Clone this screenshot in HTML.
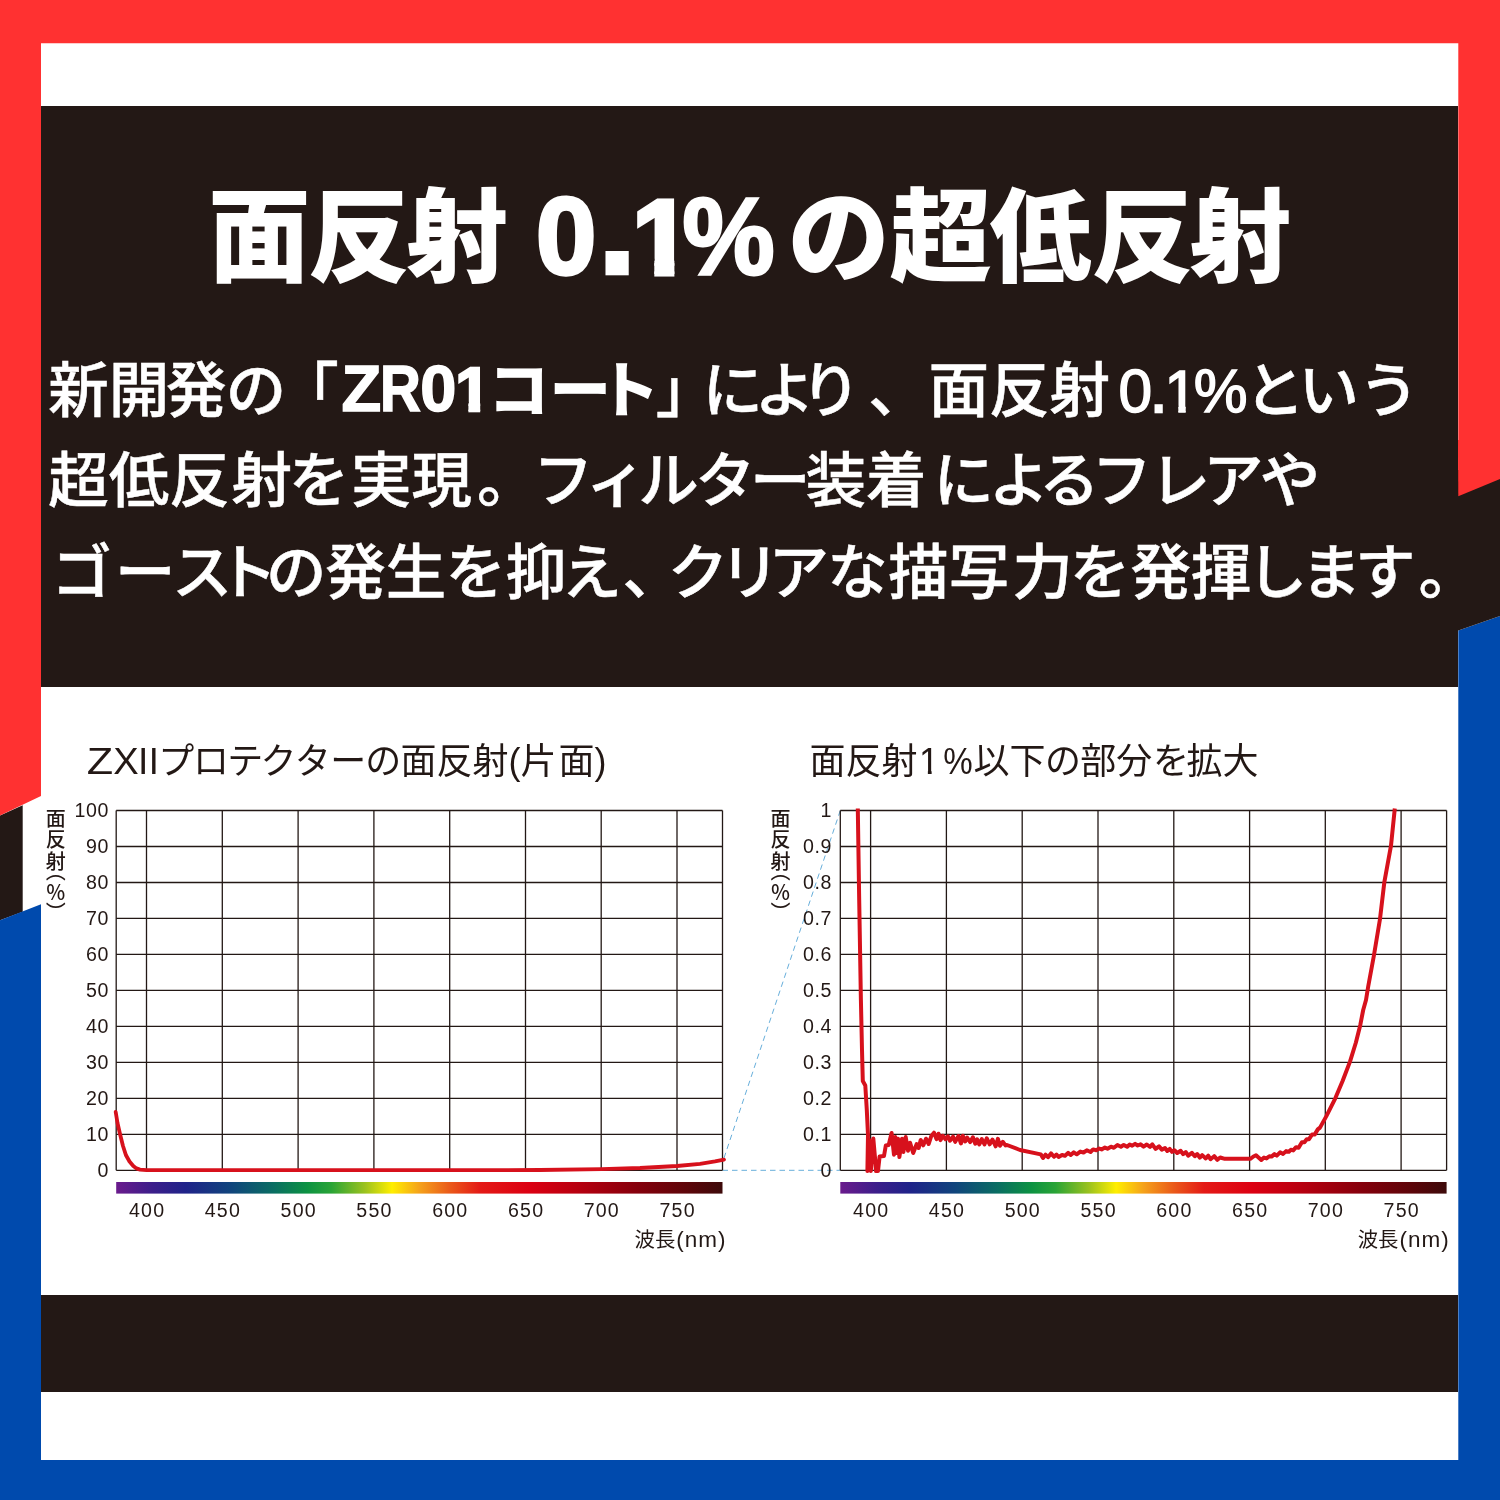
<!DOCTYPE html>
<html lang="ja">
<head>
<meta charset="utf-8">
<title>面反射 0.1% の超低反射</title>
<style>
html,body,h1,h2,p{margin:0;padding:0;}
body{width:1500px;height:1500px;position:relative;overflow:hidden;background:#fff;
font-family:"Liberation Sans","Noto Sans CJK JP",sans-serif;color:#231815;}

svg{position:absolute;left:0;top:0;display:block;}
.panel{position:absolute;background:#231815;}
.ln{font-kerning:none;position:absolute;left:0;width:1500px;height:92px;line-height:92px;font-size:60.5px;font-weight:500;color:#fff;white-space:nowrap;font-feature-settings:"palt" 1;-webkit-text-stroke:.5px #fff;}
.title{font-kerning:none;position:absolute;left:0;top:161px;width:1500px;height:150px;line-height:150px;color:#fff;font-weight:900;font-size:102px;white-space:nowrap;}
.ctitle{font-kerning:none;position:absolute;left:0;width:1500px;height:50px;font-size:36px;line-height:50px;white-space:nowrap;font-weight:400;font-feature-settings:"palt" 1;color:#231815;}

.ylab{position:absolute;writing-mode:vertical-rl;font-size:20px;line-height:22px;font-weight:500;letter-spacing:1.8px;white-space:nowrap;color:#231815;font-feature-settings:"vpal" 1;}
.xlab{position:absolute;font-size:20.4px;line-height:30px;white-space:nowrap;color:#231815;text-align:right;}
.xlab span{font-size:22.5px;letter-spacing:1px;margin-left:1px;}
.charts text{font-family:"Liberation Sans","Noto Sans CJK JP",sans-serif;}
</style>
</head>
<body>
<svg width="1500" height="1500" viewBox="0 0 1500 1500">
<polygon fill="#231815" points="0,815.5 22.7,805.3 22.7,911.7 0,920.2"/>
<polygon fill="#ff3131" points="0,0 1500,0 1500,479 1458.3,496.3 1458.3,43.2 41,43.2 41,796 0,815.5"/>
<polygon fill="#004aad" points="1500,616 1500,1500 0,1500 0,920.2 41,904.2 41,1460 1458.3,1460 1458.3,630.6"/>
</svg>
<div class="panel" style="left:41px;top:106px;width:1417.3px;height:580.6px;"></div>
<div class="panel" style="left:41px;top:1295.3px;width:1417.3px;height:97.2px;"></div>
<svg width="1500" height="1500" viewBox="0 0 1500 1500">
<polygon fill="#231815" points="1455,470 1500,470 1500,616 1458.3,630.6 1455,630.6"/>
<polygon fill="#ff3131" points="1458,440 1500,440 1500,479 1458.3,496.3"/>
</svg>

<h1 class="title" id="title" aria-label="面反射 0.1% の超低反射"><span style="margin-left:208.2px">面</span><span style="margin-left:-2.3px">反</span><span style="margin-left:-4.2px">射</span> <span style="margin-left:-0.1px;font-weight:700;font-size:108.5px;-webkit-text-stroke:3.5px #fff">0</span><span style="margin-left:5.5px;font-weight:700;font-size:110px;display:inline-block;-webkit-text-stroke:2px #fff;transform:scale(1.32);transform-origin:50% 112px">.</span><span style="margin-left:0.1px;font-weight:700;font-size:105.6px;display:inline-block;-webkit-text-stroke:5px #fff;clip-path:polygon(-9px 0,41.94px 0,41.94px 150px,21.85px 150px,21.85px 96.71px,-9px 96.71px)">1</span><span style="margin-left:-11.3px;font-weight:700;font-size:109px;display:inline-block;-webkit-text-stroke:3px #fff;transform:scaleX(.95)">%</span> <span style="margin-left:-17.3px">の超</span><span style="margin-left:-2.3px">低反</span><span style="margin-left:-4.5px">射</span></h1>

<p class="ln" id="l1" style="top:344px;" aria-label="新開発の「ZR01コート」により、面反射0.1%という"><span style="margin-left:48.3px">新開</span><span style="margin-left:-3.2px">発の</span><span style="margin-left:22.5px">「</span><span style="margin-left:3.9px;font-weight:700;font-size:65px;-webkit-text-stroke:1.5px #fff;position:relative;top:-.8px">Z</span><span style="margin-left:-4.3px;font-weight:700;font-size:65px;display:inline-block;-webkit-text-stroke:1.5px #fff;position:relative;top:-.8px;transform:scaleX(.87)">R</span><span style="margin-left:-3.8px;font-weight:700;font-size:65px;-webkit-text-stroke:1.5px #fff;position:relative;top:-.8px">0</span><span style="margin-left:-1.2px;font-weight:700;font-size:63.5px;display:inline-block;-webkit-text-stroke:2.5px #fff;clip-path:polygon(-9px 0,25.08px 0,25.08px 92px,13.27px 92px,13.27px 58.67px,-9px 58.67px);position:relative;top:-.8px">1</span><span style="margin-left:-0.4px;font-weight:700;-webkit-text-stroke:1.6px #fff">コ</span><span style="margin-left:1.6px;font-weight:700;-webkit-text-stroke:1.6px #fff">ー</span><span style="margin-left:-4.4px;font-weight:700;-webkit-text-stroke:1.6px #fff">ト</span><span style="margin-left:1.1px">」</span><span style="margin-left:16.1px">に</span><span style="margin-left:-3.5px">よ</span><span style="margin-left:-6.6px">り</span><span style="margin-left:14.2px">、</span><span style="margin-left:29.6px">面反射</span><span style="margin-left:8.3px;font-weight:400;-webkit-text-stroke:1.4px #fff">0</span><span style="margin-left:-1.8px;font-weight:400;-webkit-text-stroke:2.4px #fff">.</span><span style="margin-left:-2.5px;font-weight:400;font-size:59px;display:inline-block;-webkit-text-stroke:1.6px #fff;clip-path:polygon(-9px 0,21.15px 0,21.15px 92px,13.74px 92px,13.74px 59.64px,-9px 59.64px)">1</span><span style="margin-left:-3.6px;font-weight:400;-webkit-text-stroke:1.4px #fff">%</span><span style="margin-left:-1.3px">とい</span><span style="margin-left:6.6px">う</span></p>
<p class="ln" id="l2" style="top:435px;" aria-label="超低反射を実現。フィルター装着によるフレアや"><span style="margin-left:48.3px">超低反</span><span style="margin-left:1.7px">射</span><span style="margin-left:-2.6px">を</span><span style="margin-left:5.7px">実現</span><span style="margin-left:4.4px">。</span><span style="margin-left:30.9px">フ</span><span style="margin-left:2.0px">ィ</span><span style="margin-left:4.4px">ルター</span><span style="margin-left:-4.6px">装着</span><span style="margin-left:7.5px">によ</span><span style="margin-left:-3.2px">るフ</span><span style="margin-left:7.0px">レ</span><span style="margin-left:-1.8px">アや</span></p>
<p class="ln" id="l3" style="top:527px;" aria-label="ゴーストの発生を抑え、クリアな描写力を発揮します。"><span style="margin-left:53.7px">ゴ</span><span style="margin-left:5.2px">ース</span><span style="margin-left:-3.5px">ト</span><span style="margin-left:-5.7px">の発生を</span><span style="margin-left:4.0px">抑</span><span style="margin-left:-3.0px">え</span><span style="margin-left:4.7px">、</span><span style="margin-left:16.2px">クリ</span><span style="margin-left:-2.6px">アな</span><span style="margin-left:1.8px">描写</span><span style="margin-left:3.1px">力</span><span style="margin-left:-2.4px">を</span><span style="margin-left:4.2px">発揮します</span><span style="margin-left:4.8px">。</span></p>

<h2 class="ctitle" id="ct1" style="top:736.5px;" aria-label="ZXⅡプロテクターの面反射(片面)"><span style="margin-left:89.0px;display:inline-block;transform:scaleX(1.2)">Z</span><span style="margin-left:3.0px;display:inline-block;transform:scaleX(1.06)">X</span><span style="margin-left:-7.5px">Ⅱ</span><span style="margin-left:-6.0px">プロテク</span><span style="margin-left:2.7px">タ</span><span style="margin-left:2.5px">ーの面反射(片</span><span style="margin-left:1.8px">面)</span></h2>
<h2 class="ctitle" id="ct2" style="top:736.5px;" aria-label="面反射1%以下の部分を拡大"><span style="margin-left:809.5px">面反射</span><span style="margin-left:1.6px;display:inline-block;clip-path:polygon(-9px 0,12.53px 0,12.53px 50px,8.75px 50px,8.75px 33.18px,-9px 33.18px)">1</span><span style="margin-left:3.3px;display:inline-block;transform:scaleX(.92)">%</span><span style="margin-left:-1.0px">以下の部分</span><span style="margin-left:1.2px">を拡大</span></h2>

<div class="ylab" id="yl1" style="left:43.3px;top:808px;">面反射<span style="margin-top:-2.5px">（％）</span></div>
<div class="ylab" id="yl2" style="left:768px;top:808px;">面反射<span style="margin-top:-2.5px">（％）</span></div>

<div class="xlab" id="xl1" style="left:522px;width:204.6px;top:1225px;">波長<span>(nm)</span></div>
<div class="xlab" id="xl2" style="left:1246px;width:203.7px;top:1225px;">波長<span>(nm)</span></div>

<svg class="charts" width="1500" height="1500" viewBox="0 0 1500 1500">
<defs>
<linearGradient id="spec" x1="0" y1="0" x2="1" y2="0">
<stop offset="0" stop-color="#6a1b8c"/>
<stop offset="0.06" stop-color="#3c1e8a"/>
<stop offset="0.115" stop-color="#1f2389"/>
<stop offset="0.19" stop-color="#10457c"/>
<stop offset="0.26" stop-color="#0a6e62"/>
<stop offset="0.315" stop-color="#0c9242"/>
<stop offset="0.355" stop-color="#2aa436"/>
<stop offset="0.41" stop-color="#9bc21f"/>
<stop offset="0.455" stop-color="#ffee00"/>
<stop offset="0.50" stop-color="#f5a21b"/>
<stop offset="0.55" stop-color="#ea5a1a"/>
<stop offset="0.60" stop-color="#e41a16"/>
<stop offset="0.68" stop-color="#dc0012"/>
<stop offset="0.76" stop-color="#b80010"/>
<stop offset="0.86" stop-color="#85000c"/>
<stop offset="0.94" stop-color="#5e0509"/>
<stop offset="1" stop-color="#3d0a0a"/>
</linearGradient>
</defs>
<g stroke="#56a5d6" stroke-width="0.9" fill="none" stroke-dasharray="5.5 4">
<line x1="724" y1="1158" x2="840.3" y2="810.5"/>
<line x1="722.5" y1="1170.3" x2="840.3" y2="1170.3"/>
</g>
<g stroke="#231815" stroke-width="1.3" fill="none">
<line x1="116.2" y1="810.5" x2="722.5" y2="810.5"/>
<line x1="116.2" y1="846.5" x2="722.5" y2="846.5"/>
<line x1="116.2" y1="882.5" x2="722.5" y2="882.5"/>
<line x1="116.2" y1="918.4" x2="722.5" y2="918.4"/>
<line x1="116.2" y1="954.4" x2="722.5" y2="954.4"/>
<line x1="116.2" y1="990.4" x2="722.5" y2="990.4"/>
<line x1="116.2" y1="1026.4" x2="722.5" y2="1026.4"/>
<line x1="116.2" y1="1062.4" x2="722.5" y2="1062.4"/>
<line x1="116.2" y1="1098.3" x2="722.5" y2="1098.3"/>
<line x1="116.2" y1="1134.3" x2="722.5" y2="1134.3"/>
<line x1="116.2" y1="1170.3" x2="722.5" y2="1170.3"/>
<line x1="116.2" y1="810.5" x2="116.2" y2="1170.3"/>
<line x1="146.5" y1="810.5" x2="146.5" y2="1170.3"/>
<line x1="222.3" y1="810.5" x2="222.3" y2="1170.3"/>
<line x1="298.1" y1="810.5" x2="298.1" y2="1170.3"/>
<line x1="373.9" y1="810.5" x2="373.9" y2="1170.3"/>
<line x1="449.7" y1="810.5" x2="449.7" y2="1170.3"/>
<line x1="525.5" y1="810.5" x2="525.5" y2="1170.3"/>
<line x1="601.2" y1="810.5" x2="601.2" y2="1170.3"/>
<line x1="677.0" y1="810.5" x2="677.0" y2="1170.3"/>
<line x1="722.5" y1="810.5" x2="722.5" y2="1170.3"/>
<line x1="840.3" y1="810.5" x2="1446.6" y2="810.5"/>
<line x1="840.3" y1="846.5" x2="1446.6" y2="846.5"/>
<line x1="840.3" y1="882.5" x2="1446.6" y2="882.5"/>
<line x1="840.3" y1="918.4" x2="1446.6" y2="918.4"/>
<line x1="840.3" y1="954.4" x2="1446.6" y2="954.4"/>
<line x1="840.3" y1="990.4" x2="1446.6" y2="990.4"/>
<line x1="840.3" y1="1026.4" x2="1446.6" y2="1026.4"/>
<line x1="840.3" y1="1062.4" x2="1446.6" y2="1062.4"/>
<line x1="840.3" y1="1098.3" x2="1446.6" y2="1098.3"/>
<line x1="840.3" y1="1134.3" x2="1446.6" y2="1134.3"/>
<line x1="840.3" y1="1170.3" x2="1446.6" y2="1170.3"/>
<line x1="840.3" y1="810.5" x2="840.3" y2="1170.3"/>
<line x1="870.6" y1="810.5" x2="870.6" y2="1170.3"/>
<line x1="946.4" y1="810.5" x2="946.4" y2="1170.3"/>
<line x1="1022.2" y1="810.5" x2="1022.2" y2="1170.3"/>
<line x1="1098.0" y1="810.5" x2="1098.0" y2="1170.3"/>
<line x1="1173.8" y1="810.5" x2="1173.8" y2="1170.3"/>
<line x1="1249.6" y1="810.5" x2="1249.6" y2="1170.3"/>
<line x1="1325.3" y1="810.5" x2="1325.3" y2="1170.3"/>
<line x1="1401.1" y1="810.5" x2="1401.1" y2="1170.3"/>
<line x1="1446.6" y1="810.5" x2="1446.6" y2="1170.3"/>
</g>
<rect x="116.2" y="1182" width="606.3" height="11.6" fill="url(#spec)"/>
<rect x="840.3" y="1182" width="606.3" height="11.6" fill="url(#spec)"/>
<path d="M115.7,1112.0 L117.5,1123.0 L120.0,1134.0 L123.0,1146.0 L126.0,1155.3 L129.5,1161.5 L133.3,1166.0 L136.5,1168.4 L140.0,1169.6 L146.7,1170.2 L200.0,1170.2 L400.0,1170.2 L540.0,1170.0 L601.6,1169.2 L640.0,1168.0 L677.0,1166.0 L700.0,1163.8 L715.0,1161.4 L724.0,1159.6" fill="none" stroke="#d7111c" stroke-width="3.8" stroke-linejoin="round" stroke-linecap="round"/>
<path d="M857.8,808.5 L859.2,900.0 L860.9,1000.0 L862.0,1050.0 L862.8,1081.0 L865.3,1085.5 L866.8,1110.0 L868.0,1135.0 L867.4,1171.0 L869.3,1140.0 L870.8,1171.0 L873.3,1138.5 L875.2,1160.0 L876.0,1171.0 L878.0,1171.0 L879.6,1156.5 L884.0,1156.0 L885.8,1145.5 L888.7,1145.0 L891.6,1133.0 L894.0,1154.7 L895.3,1137.0 L896.7,1153.0 L898.0,1138.7 L899.4,1157.0 L902.0,1138.7 L903.4,1152.0 L905.7,1137.0 L908.0,1150.7 L910.0,1142.7 L913.2,1153.0 L916.7,1144.0 L918.7,1148.0 L920.7,1140.0 L923.3,1145.3 L926.0,1138.7 L928.7,1144.0 L931.3,1136.0 L934.0,1132.7 L936.5,1139.1 L938.5,1133.7 L940.5,1140.1 L942.8,1135.8 L945.5,1139.2 L947.9,1136.3 L949.9,1140.7 L953.0,1136.7 L955.2,1141.8 L958.5,1136.0 L960.9,1143.4 L962.8,1135.7 L965.1,1141.5 L967.1,1137.6 L970.2,1142.1 L972.9,1137.3 L975.3,1143.7 L977.2,1139.4 L979.3,1144.5 L981.8,1139.1 L984.5,1144.4 L986.8,1138.3 L989.7,1144.3 L992.5,1139.6 L995.7,1146.3 L997.9,1138.9 L999.9,1145.8 L1002.9,1141.8 L1005.5,1145.4 L1007.0,1145.0 L1020.0,1150.0 L1040.8,1154.4 L1043.0,1158.0 L1045.5,1154.6 L1048.0,1157.2 L1051.0,1153.4 L1054.0,1156.8 L1056.5,1154.6 L1058.6,1157.0 L1062.0,1155.0 L1065.0,1155.8 L1068.1,1152.9 L1070.7,1155.0 L1073.8,1152.4 L1076.7,1154.3 L1080.3,1151.6 L1083.5,1152.5 L1086.8,1150.3 L1090.5,1152.0 L1093.1,1149.4 L1096.3,1150.2 L1099.2,1148.6 L1101.6,1149.4 L1104.9,1147.6 L1107.5,1148.7 L1111.0,1146.7 L1113.9,1147.8 L1117.4,1145.0 L1120.9,1146.7 L1123.7,1144.9 L1127.2,1146.8 L1129.7,1144.6 L1132.2,1145.7 L1135.1,1143.8 L1137.7,1145.5 L1140.6,1144.3 L1143.6,1146.6 L1146.8,1144.5 L1150.0,1146.8 L1152.3,1144.3 L1155.6,1148.9 L1159.0,1146.3 L1161.8,1149.6 L1165.0,1148.0 L1167.3,1151.0 L1169.7,1148.9 L1172.0,1151.9 L1174.4,1150.2 L1177.2,1153.0 L1180.7,1150.8 L1183.1,1154.2 L1185.8,1152.0 L1188.2,1155.7 L1191.9,1152.9 L1194.8,1156.2 L1197.2,1154.0 L1199.8,1157.7 L1202.2,1155.1 L1205.8,1158.5 L1208.3,1155.7 L1210.5,1159.2 L1214.2,1156.2 L1217.4,1159.8 L1220.2,1157.5 L1224.8,1158.8 L1250.3,1158.8 L1253.5,1156.5 L1256.0,1155.3 L1258.5,1157.5 L1261.3,1160.0 L1264.0,1157.6 L1266.5,1158.4 L1269.3,1156.2 L1271.5,1156.6 L1274.5,1154.1 L1276.8,1155.6 L1280.1,1152.3 L1283.1,1153.9 L1286.1,1151.1 L1288.8,1151.8 L1290.8,1149.8 L1293.2,1150.4 L1296.1,1147.2 L1298.6,1147.8 L1301.9,1142.3 L1304.4,1142.3 L1306.7,1139.2 L1309.0,1139.2 L1312.1,1134.5 L1314.8,1134.4 L1317.8,1129.4 L1320.0,1127.6 L1326.5,1115.9 L1335.3,1098.3 L1342.7,1080.7 L1350.0,1061.6 L1355.9,1042.5 L1360.3,1024.9 L1363.2,1010.0 L1366.0,1000.0 L1368.2,986.5 L1374.0,955.0 L1380.0,919.0 L1384.3,882.4 L1391.0,845.7 L1394.8,808.5" fill="none" stroke="#d7111c" stroke-width="4" stroke-linejoin="round" stroke-linecap="butt"/>
<g class="ax" font-size="19.6" letter-spacing="0.6" fill="#231815">
<text x="147.1" y="1217.2" text-anchor="middle" letter-spacing="1.2">400</text>
<text x="222.9" y="1217.2" text-anchor="middle" letter-spacing="1.2">450</text>
<text x="298.7" y="1217.2" text-anchor="middle" letter-spacing="1.2">500</text>
<text x="374.5" y="1217.2" text-anchor="middle" letter-spacing="1.2">550</text>
<text x="450.3" y="1217.2" text-anchor="middle" letter-spacing="1.2">600</text>
<text x="526.1" y="1217.2" text-anchor="middle" letter-spacing="1.2">650</text>
<text x="601.8" y="1217.2" text-anchor="middle" letter-spacing="1.2">700</text>
<text x="677.6" y="1217.2" text-anchor="middle" letter-spacing="1.2">750</text>
<text x="871.2" y="1217.2" text-anchor="middle" letter-spacing="1.2">400</text>
<text x="947.0" y="1217.2" text-anchor="middle" letter-spacing="1.2">450</text>
<text x="1022.8" y="1217.2" text-anchor="middle" letter-spacing="1.2">500</text>
<text x="1098.6" y="1217.2" text-anchor="middle" letter-spacing="1.2">550</text>
<text x="1174.4" y="1217.2" text-anchor="middle" letter-spacing="1.2">600</text>
<text x="1250.2" y="1217.2" text-anchor="middle" letter-spacing="1.2">650</text>
<text x="1325.9" y="1217.2" text-anchor="middle" letter-spacing="1.2">700</text>
<text x="1401.7" y="1217.2" text-anchor="middle" letter-spacing="1.2">750</text>
<text x="109.0" y="817.4" text-anchor="end">100</text>
<text x="109.0" y="853.4" text-anchor="end">90</text>
<text x="109.0" y="889.4" text-anchor="end">80</text>
<text x="109.0" y="925.3" text-anchor="end">70</text>
<text x="109.0" y="961.3" text-anchor="end">60</text>
<text x="109.0" y="997.3" text-anchor="end">50</text>
<text x="109.0" y="1033.3" text-anchor="end">40</text>
<text x="109.0" y="1069.3" text-anchor="end">30</text>
<text x="109.0" y="1105.2" text-anchor="end">20</text>
<text x="109.0" y="1141.2" text-anchor="end">10</text>
<text x="109.0" y="1177.2" text-anchor="end">0</text>
<text x="832.0" y="817.4" text-anchor="end">1</text>
<text x="832.0" y="853.4" text-anchor="end">0.9</text>
<text x="832.0" y="889.4" text-anchor="end">0.8</text>
<text x="832.0" y="925.3" text-anchor="end">0.7</text>
<text x="832.0" y="961.3" text-anchor="end">0.6</text>
<text x="832.0" y="997.3" text-anchor="end">0.5</text>
<text x="832.0" y="1033.3" text-anchor="end">0.4</text>
<text x="832.0" y="1069.3" text-anchor="end">0.3</text>
<text x="832.0" y="1105.2" text-anchor="end">0.2</text>
<text x="832.0" y="1141.2" text-anchor="end">0.1</text>
<text x="832.0" y="1177.2" text-anchor="end">0</text>
</g>
</svg>

</body>
</html>
